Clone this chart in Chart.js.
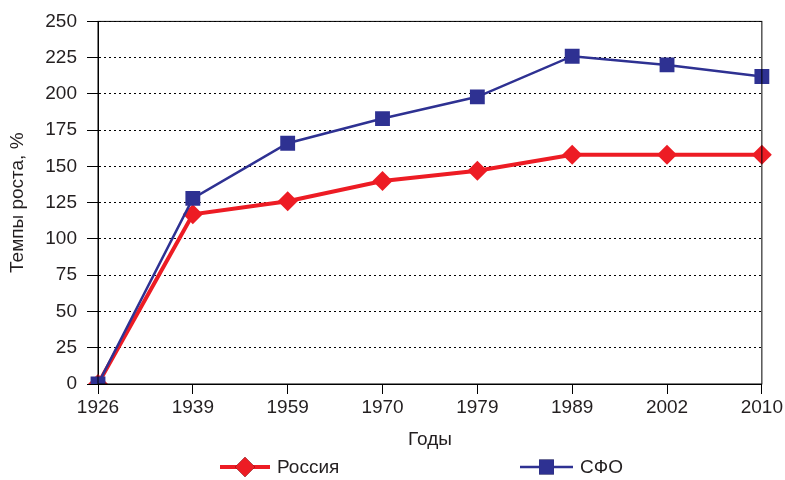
<!DOCTYPE html>
<html>
<head>
<meta charset="utf-8">
<script src="https://cdn.jsdelivr.net/npm/chart.js@4/dist/chart.umd.min.js"></script>
<style>
  html, body { margin: 0; padding: 0; background: #fff; }
  #wrap { width: 785px; height: 480px; }
</style>
</head>
<body>
<div id="wrap"><canvas id="lineChart" width="785" height="480"></canvas></div>
<script>
// data
var years = ['1926', '1939', '1959', '1970', '1979', '1989', '2002', '2010'];
var russia = [0, 117, 126, 140, 147, 158, 158, 158];
var sfo = [0, 128, 166, 183, 198, 226, 220, 212];
var seriesNames = ['Россия', 'СФО'];

var RED = '#ED1C24';
var BLUE = '#2E3192';
var TEXT = '#231F20';
var FONT = "'Liberation Sans', Arial, sans-serif";
var FS = 19;

Chart.defaults.font.family = FONT;
Chart.defaults.color = TEXT;

// box round the plot + hand made legend below the axis title
var frameAndLegend = {
    id: 'frameAndLegend',
    afterDraw: function(chart) {
        var ctx = chart.ctx;
        var a = chart.chartArea;
        ctx.save();
        ctx.strokeStyle = '#000';
        ctx.lineWidth = 1;
        ctx.strokeRect(a.left, a.top, a.right - a.left, a.bottom - a.top);

        var items = [
            { x: 220, len: 50, ds: chart.data.datasets[1] },
            { x: 520, len: 53, ds: chart.data.datasets[0] }
        ];
        var y = 467;
        items.forEach(function(it) {
            var ds = it.ds;
            ctx.strokeStyle = ds.borderColor;
            ctx.lineWidth = ds.borderWidth;
            ctx.beginPath();
            ctx.moveTo(it.x, y);
            ctx.lineTo(it.x + it.len, y);
            ctx.stroke();
            Chart.helpers.drawPoint(ctx, {
                pointStyle: ds.pointStyle,
                radius: ds.pointRadius,
                borderWidth: 0
            }, it.x + it.len / 2, y);
            ctx.fillStyle = ds.backgroundColor;
            ctx.fill();
            ctx.fillStyle = TEXT;
            ctx.font = FS + 'px ' + FONT;
            ctx.textBaseline = 'middle';
            ctx.textAlign = 'left';
            ctx.fillText(ds.label, it.x + it.len + 7, y + 1);
        });
        ctx.restore();
    }
};

new Chart(document.getElementById('lineChart'), {
    type: 'line',
    data: {
        labels: years,
        datasets: [
            {
                label: seriesNames[1],
                data: sfo,
                borderColor: BLUE,
                backgroundColor: BLUE,
                borderWidth: 2.5,
                pointStyle: 'rect',
                pointRadius: 10.5,
                pointBorderWidth: 0,
                tension: 0,
                order: 0
            },
            {
                label: seriesNames[0],
                data: russia,
                borderColor: RED,
                backgroundColor: RED,
                borderWidth: 4,
                pointStyle: 'rectRot',
                pointRadius: 10,
                pointBorderWidth: 0,
                tension: 0,
                order: 1
            }
        ]
    },
    options: {
        responsive: false,
        animation: false,
        layout: { padding: { left: 0, right: 23, top: 19, bottom: 29 } },
        plugins: {
            legend: { display: false },
            tooltip: { enabled: false }
        },
        scales: {
            x: {
                offset: false,
                afterFit: function(scale) { scale.height = 67; },
                grid: { drawOnChartArea: false, drawTicks: true, tickLength: 10, color: '#000' },
                border: { color: '#000', width: 1 },
                ticks: { font: { size: FS }, color: TEXT, padding: 2, maxRotation: 0 },
                title: { display: true, text: 'Годы', font: { size: FS }, color: TEXT, padding: 0 }
            },
            y: {
                min: 0,
                max: 250,
                afterFit: function(scale) { scale.width = 98; },
                grid: { color: '#000', lineWidth: 1, tickLength: 11, tickBorderDash: [] },
                border: { color: '#000', width: 1, dash: [2, 3] },
                ticks: { stepSize: 25, font: { size: FS }, color: TEXT, padding: 10 },
                title: { display: true, text: 'Темпы роста, %', font: { size: FS }, color: TEXT, padding: { top: 6, bottom: 0 } }
            }
        }
    },
    plugins: [frameAndLegend]
});
</script>
</body>
</html>
